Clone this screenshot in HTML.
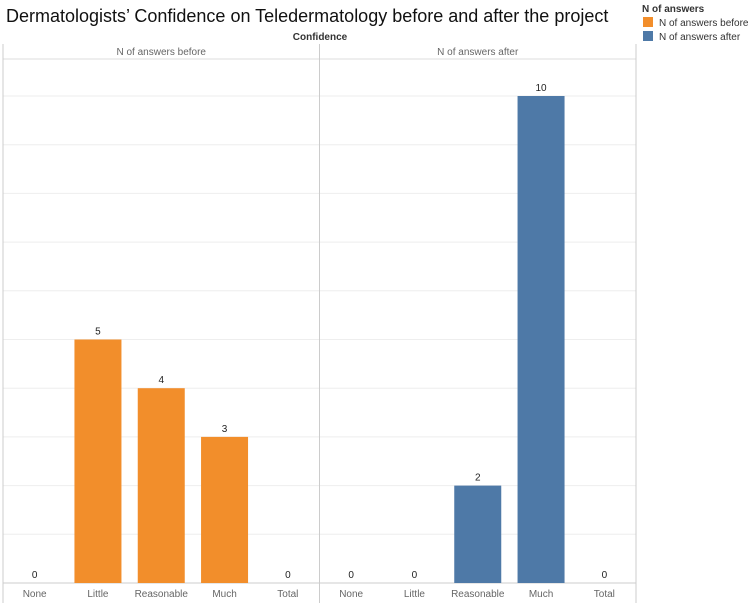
<!DOCTYPE html>
<html><head><meta charset="utf-8"><style>
body{margin:0;background:#fff;font-family:"Liberation Sans",sans-serif;}
svg text{font-family:"Liberation Sans",sans-serif;}
</style></head><body>
<svg id="c" width="750" height="603" xmlns="http://www.w3.org/2000/svg">
<text x="6" y="22" font-size="18" fill="#111">Dermatologists’ Confidence on Teledermatology before and after the project</text>
<text x="320" y="40" font-size="10" font-weight="bold" fill="#333" text-anchor="middle">Confidence</text>
<text x="642" y="12" font-size="10" font-weight="bold" fill="#333">N of answers</text>
<rect x="643" y="17" width="10" height="10" fill="#f28e2b"/>
<text x="659" y="26" font-size="10" fill="#333">N of answers before</text>
<rect x="643" y="31" width="10" height="10" fill="#4e79a7"/>
<text x="659" y="40" font-size="10" fill="#333">N of answers after</text>
<g id="plot"></g>
</svg>
<script>
const categories=["None","Little","Reasonable","Much","Total"];
const panels=["N of answers before","N of answers after"];
const beforeValues=[0,5,4,3,0];
const afterValues=[0,0,2,10,0];
const colors=["#f28e2b","#4e79a7"];
const NS="http://www.w3.org/2000/svg";
const g=document.getElementById("plot");
const L=3,PW=316.5,headerY=59,base=583,yMax=10,yTop=96;
const y=v=>base-(v/yMax)*(base-yTop);
const x=(p,i)=>L+p*PW+PW/5*(i+0.5);
function mk(t,a){const e=document.createElementNS(NS,t);for(const k in a)e.setAttribute(k,a[k]);g.appendChild(e);return e;}
for(let v=1;v<=yMax;v++){const l=mk("line",{x1:L,x2:L+2*PW,y1:y(v),y2:y(v),stroke:"#eee","stroke-width":1});

}
const hl=mk("line",{x1:L,x2:L+2*PW,y1:headerY,y2:headerY,stroke:"#ddd"});


[L,L+PW,L+2*PW].forEach(xx=>{const l=mk("line",{x1:xx,x2:xx,y1:44,y2:603,stroke:"#ccc"});

});
const bl=mk("line",{x1:L,x2:L+2*PW,y1:base,y2:base,stroke:"#ccc"});


[beforeValues,afterValues].forEach((vals,p)=>{
 const ht=mk("text",{x:L+p*PW+PW/2,y:55,"font-size":10,fill:"#666","text-anchor":"middle"});ht.textContent=panels[p];
 
 
 vals.forEach((v,i)=>{
  const cx=x(p,i);
  if(v>0){const r=mk("rect",{x:cx-23.5,y:y(v),width:47,height:base-y(v),fill:colors[p]});
   
   }
  const lt=mk("text",{x:cx,y:y(v)-5,"font-size":10,fill:"#222","text-anchor":"middle"});lt.textContent=v;
  
  
  const ct=mk("text",{x:cx,y:597,"font-size":10,fill:"#666","text-anchor":"middle"});ct.textContent=categories[i];
  
  
 });
});
</script>
</body></html>
